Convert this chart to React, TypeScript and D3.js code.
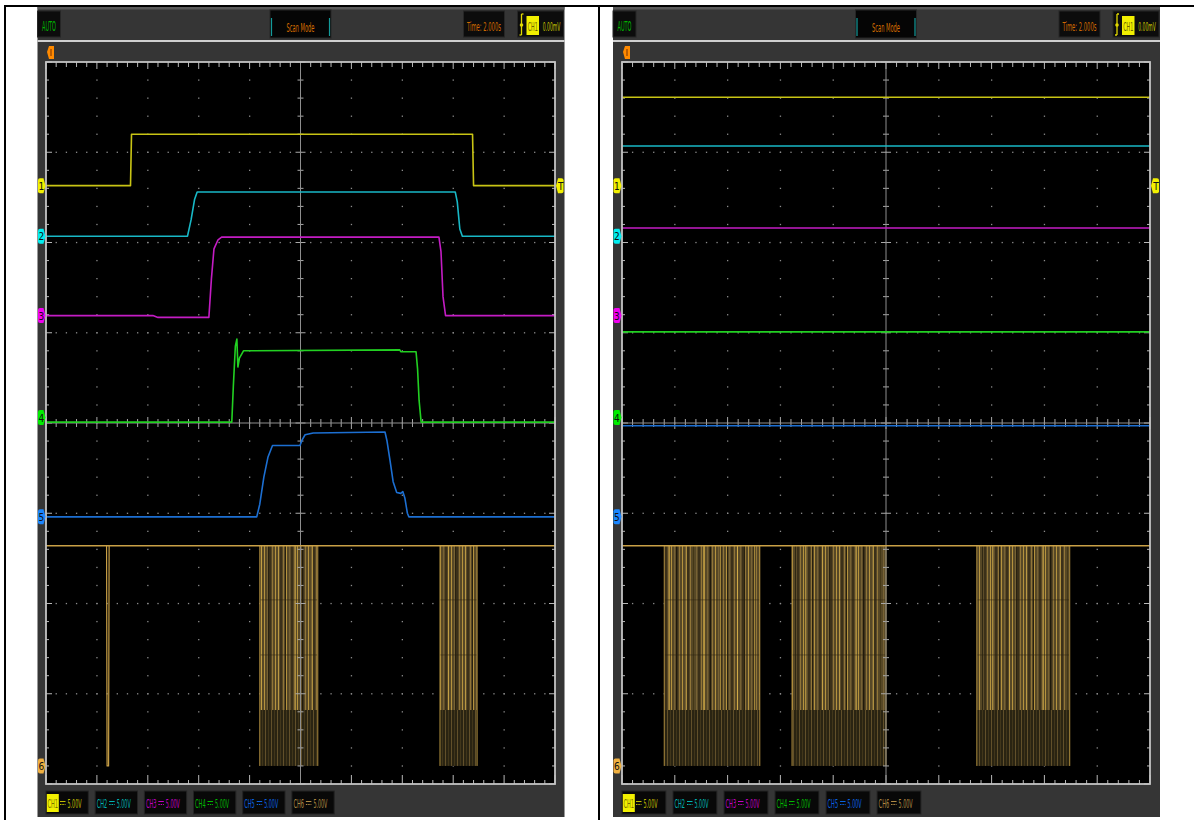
import React, { useLayoutEffect, useRef, useState } from "react";
import * as d3 from "d3";

// ---------- text content ----------
const channelNames = ["CH1", "CH2", "CH3", "CH4", "CH5", "CH6"];
const channelScales = ["5.00V", "5.00V", "5.00V", "5.00V", "5.00V", "5.00V"];
const runMode = "AUTO";
const acqMode = "Scan Mode";
const timeBase = "Time: 2.000s";
const triggerSource = "CH1";
const triggerLevel = "0.00mV";

// ---------- marker levels (divisions from screen centre) ----------
const markerLevels = [2.63, 2.07, 1.19, 0.06, -1.04, -3.8];
const triggerMarkerLevel = 2.63;

// ---------- left capture: [time div, level div] ----------
const leftCh1: [number, number][] = [
  [0, 2.63], [1.66, 2.63], [1.68, 3.2], [8.38, 3.2], [8.4, 2.63], [10, 2.63],
];
const leftCh2: [number, number][] = [
  [0, 2.07], [2.78, 2.07], [2.85, 2.25], [2.92, 2.48], [2.97, 2.56], [8.04, 2.56],
  [8.08, 2.45], [8.13, 2.15], [8.18, 2.07], [10, 2.07],
];
const leftCh3: [number, number][] = [
  [0, 1.19], [2.1, 1.19], [2.2, 1.17], [3.2, 1.17], [3.25, 1.6], [3.3, 1.93], [3.38, 2.03],
  [3.45, 2.06], [7.72, 2.06], [7.76, 1.9], [7.8, 1.4], [7.85, 1.19], [10, 1.19],
];
const leftCh4: [number, number][] = [
  [0, 0.01], [3.65, 0.01], [3.68, 0.4], [3.72, 0.85], [3.75, 0.93], [3.77, 0.62],
  [3.8, 0.72], [3.88, 0.8], [6.95, 0.81], [6.97, 0.79], [7.27, 0.79], [7.3, 0.6],
  [7.33, 0.25], [7.37, 0.01], [10, 0.01],
];
const leftCh5: [number, number][] = [
  [0, -1.04], [4.14, -1.04], [4.2, -0.9], [4.28, -0.6], [4.36, -0.38], [4.45, -0.25],
  [4.99, -0.25], [5.03, -0.19], [5.09, -0.13], [5.25, -0.11], [6.66, -0.1], [6.7, -0.2],
  [6.76, -0.42], [6.82, -0.65], [6.89, -0.77], [6.97, -0.78], [7.01, -0.76], [7.05, -0.83],
  [7.1, -1.0], [7.13, -1.04], [10, -1.04],
];
const leftCh6Spikes = [1.2];
const leftCh6Bursts: [number, number][] = [[4.2, 5.34], [7.74, 8.47]];

// ---------- right capture ----------
const rightCh1: [number, number][] = [[0, 3.61], [10, 3.61]];
const rightCh2: [number, number][] = [[0, 3.07], [10, 3.07]];
const rightCh3: [number, number][] = [[0, 2.16], [10, 2.16]];
const rightCh4: [number, number][] = [[0, 1.01], [10, 1.01]];
const rightCh5: [number, number][] = [[0, -0.03], [10, -0.03]];
const rightCh6Spikes: number[] = [];
const rightCh6Bursts: [number, number][] = [[0.8, 2.61], [3.22, 5.0], [6.72, 8.48]];

// CH6 pulse-train levels
const ch6High = -1.36;
const ch6Low = -3.8;
const ch6BandLevels = [-1.96, -2.57];
const ch6DarkBand = -3.18;

// ---------- styles ----------
const traceColors = ["#c8c414", "#18b8c6", "#c41cc4", "#22d022", "#1c6fd2", "#c9a046"];
const tagColors = ["#f2f000", "#00eef0", "#f000f0", "#00ee00", "#1a86ff", "#f0b040"];
const legendColors = ["#c0bc00", "#00b4b4", "#c400c4", "#00bc00", "#0a62e0", "#b08a44"];
const FONT = "'Liberation Sans Narrow', 'DejaVu Sans Condensed', 'Arial Narrow', sans-serif";

const FY0 = 62;
const FY1 = 784;

type Cfg = {
  id: string;
  cx0: number;
  cx1: number;
  fx0: number;
  fx1: number;
  traces: [number, number][][];
  spikes: number[];
  bursts: [number, number][];
};

const scopeCfgs: Cfg[] = [
  { id: "L", cx0: 37.5, cx1: 564.5, fx0: 46, fx1: 555, traces: [leftCh1, leftCh2, leftCh3, leftCh4, leftCh5], spikes: leftCh6Spikes, bursts: leftCh6Bursts },
  { id: "R", cx0: 613, cx1: 1160, fx0: 622, fx1: 1150, traces: [rightCh1, rightCh2, rightCh3, rightCh4, rightCh5], spikes: rightCh6Spikes, bursts: rightCh6Bursts },
];

// text squeezed horizontally to a given width (condensed scope font)
function FitText({ x, y, w, size, fill, children }: { x: number; y: number; w: number; size: number; fill: string; children: string }) {
  const ref = useRef<SVGTextElement>(null);
  const [sx, setSx] = useState(0.5);
  useLayoutEffect(() => {
    if (ref.current) {
      const l = ref.current.getComputedTextLength();
      if (l > 0) setSx(w / l);
    }
  }, [w, children, size]);
  return (
    <text ref={ref} transform={`translate(${x},${y}) scale(${sx},1)`} fill={fill} fontFamily={FONT} fontSize={size} textAnchor="middle">
      {children}
    </text>
  );
}

function tagPath(x0: number, yc: number, w: number, h: number, right: boolean) {
  if (right) {
    return `M${x0 + 2},${yc - h / 2} L${x0 + w - 2},${yc - h / 2} L${x0 + w},${yc} L${x0 + w - 2},${yc + h / 2} L${x0 + 2},${yc + h / 2} Q${x0},${yc + h / 2} ${x0},${yc + h / 2 - 2} L${x0},${yc - h / 2 + 2} Q${x0},${yc - h / 2} ${x0 + 2},${yc - h / 2} Z`;
  }
  return `M${x0},${yc} L${x0 + 2},${yc - h / 2} L${x0 + w - 2},${yc - h / 2} Q${x0 + w},${yc - h / 2} ${x0 + w},${yc - h / 2 + 2} L${x0 + w},${yc + h / 2 - 2} Q${x0 + w},${yc + h / 2} ${x0 + w - 2},${yc + h / 2} L${x0 + 2},${yc + h / 2} Z`;
}

function Scope({ cfg }: { cfg: Cfg }) {
  const { cx0, cx1, fx0, fx1 } = cfg;
  const x = d3.scaleLinear().domain([0, 10]).range([fx0, fx1]);
  const y = d3.scaleLinear().domain([-4, 4]).range([FY1, FY0]);
  const line = d3.line<[number, number]>().x((d) => x(d[0])).y((d) => y(d[1]));
  const minorX = d3.range(0, 51).map((i) => i / 5);
  const minorY = d3.range(0, 41).map((i) => -4 + i / 5);
  const isMajor = (v: number) => Math.abs(v - Math.round(v)) < 1e-6;
  const xm = x(5);
  const ym = y(0);
  const fw = fx1 - fx0;
  const legStep = fw / 10.35;
  const legW = legStep * 0.86;
  const clipId = `clip${cfg.id}`;
  const fc = (fx0 + fx1) / 2;

  const dots: JSX.Element[] = [];
  for (let i = 1; i <= 9; i++) {
    if (i === 5) continue;
    minorY.forEach((v, j) => {
      if (j === 0 || j === 40) return;
      dots.push(<rect key={`vx${i}-${j}`} x={x(i) - 0.6} y={y(v) - 0.6} width={1.3} height={1.3} fill="#8c8c8c" />);
    });
  }
  for (let k = -3; k <= 3; k++) {
    if (k === 0) continue;
    minorX.forEach((v, j) => {
      if (j === 0 || j === 50) return;
      dots.push(<rect key={`hy${k}-${j}`} x={x(v) - 0.6} y={y(k) - 0.6} width={1.3} height={1.3} fill="#8c8c8c" />);
    });
  }

  const ch6Base = line([[0, ch6High], [10, ch6High]]) as string;

  return (
    <g>
      {/* chrome */}
      <rect x={cx0} y={7} width={cx1 - cx0} height={810} fill="#353535" />
      <rect x={cx0} y={7} width={cx1 - cx0} height={2.5} fill="#5a5a5a" />
      <rect x={cx0} y={40} width={cx1 - cx0} height={2} fill="#cfcfcf" />

      {/* top bar */}
      <rect x={cx0} y={11} width={23} height={26} fill="#0c0c0c" stroke="#262626" />
      <FitText x={cx0 + 11.5} y={31} w={14} size={14} fill="#00b400">{runMode}</FitText>

      <rect x={fc - 30.5} y={10} width={61} height={28} fill="#050505" stroke="#262626" />
      <line x1={fc - 29} x2={fc - 29} y1={18} y2={36} stroke="#139a9a" strokeWidth={1.2} />
      <line x1={fc + 29} x2={fc + 29} y1={18} y2={36} stroke="#139a9a" strokeWidth={1.2} />
      <FitText x={fc} y={32} w={28} size={13} fill="#d66e00">{acqMode}</FitText>

      <rect x={cx1 - 101} y={11} width={41} height={26} fill="#0c0c0c" stroke="#262626" />
      <FitText x={cx1 - 80.5} y={31} w={34} size={13} fill="#d06a00">{timeBase}</FitText>

      <rect x={cx1 - 47} y={11} width={46} height={26} fill="#0c0c0c" stroke="#262626" />
      <line x1={cx1 - 43} x2={cx1 - 43} y1={14} y2={35} stroke="#e0d800" strokeWidth={1.3} />
      <line x1={cx1 - 43} x2={cx1 - 41} y1={14} y2={14} stroke="#e0d800" strokeWidth={1.3} />
      <line x1={cx1 - 45} x2={cx1 - 43} y1={35} y2={35} stroke="#e0d800" strokeWidth={1.3} />
      <circle cx={cx1 - 43} cy={25} r={1.8} fill="#e0d800" />
      <rect x={cx1 - 38} y={16} width={12.5} height={19} fill="#f2f000" />
      <FitText x={cx1 - 31.75} y={31} w={10} size={13} fill="#6a6200">{triggerSource}</FitText>
      <FitText x={cx1 - 13} y={31} w={17.5} size={13} fill="#c8c400">{triggerLevel}</FitText>

      {/* horizontal trigger position marker */}
      <path d={`M${fx0 + 1},52 L${fx0 + 3},46 L${fx0 + 8},46 L${fx0 + 8},59 L${fx0 + 3},59 Z`} fill="#ff8a00" />
      <line x1={fx0 + 5} x2={fx0 + 5} y1={49} y2={56} stroke="#7a3000" strokeWidth={1} />

      {/* graticule */}
      <rect x={fx0} y={FY0} width={fw} height={FY1 - FY0} fill="#000" />
      <defs>
        <clipPath id={clipId}>
          <rect x={fx0} y={FY0} width={fw} height={FY1 - FY0} />
        </clipPath>
      </defs>
      {dots}

      {/* CH6 pulse trains */}
      <g clipPath={`url(#${clipId})`}>
        {cfg.bursts.map(([a, b], i) => (
          <g key={`b${i}`}>
            <rect x={x(a)} y={y(ch6High)} width={x(b) - x(a)} height={y(ch6DarkBand) - y(ch6High)} fill="url(#burstUp)" />
            <rect x={x(a)} y={y(ch6High)} width={x(b) - x(a)} height={y(ch6DarkBand) - y(ch6High)} fill="url(#burstAccent)" />
            <rect x={x(a)} y={y(ch6DarkBand)} width={x(b) - x(a)} height={y(ch6Low) - y(ch6DarkBand)} fill="url(#burstLow)" />
            {ch6BandLevels.map((lv, j) => (
              <line key={j} x1={x(a)} x2={x(b)} y1={y(lv)} y2={y(lv)} stroke="#2a2210" strokeWidth={0.8} opacity={0.6} />
            ))}
            <line x1={x(a)} x2={x(a)} y1={y(ch6High)} y2={y(ch6Low)} stroke="#a8883c" strokeWidth={1} />
            <line x1={x(b)} x2={x(b)} y1={y(ch6High)} y2={y(ch6Low)} stroke="#a8883c" strokeWidth={1} />
          </g>
        ))}
      </g>

      {/* frame ticks */}
      {minorX.map((v, i) => (
        <g key={`tx${i}`}>
          <line x1={x(v)} x2={x(v)} y1={FY0} y2={FY0 + (isMajor(v) ? 7 : 5)} stroke="#b8b8b8" strokeWidth={1} />
          <line x1={x(v)} x2={x(v)} y1={FY1} y2={FY1 - (isMajor(v) ? 9 : 4)} stroke="#b8b8b8" strokeWidth={1} />
          <line x1={x(v)} x2={x(v)} y1={ym - (isMajor(v) ? 6 : 4)} y2={ym + (isMajor(v) ? 6 : 4)} stroke="#a8a8a8" strokeWidth={1} />
        </g>
      ))}
      {minorY.map((v, i) => (
        <g key={`ty${i}`}>
          <line x1={fx0} x2={fx0 + (isMajor(v) ? 6 : 3)} y1={y(v)} y2={y(v)} stroke="#b8b8b8" strokeWidth={1} />
          <line x1={fx1} x2={fx1 - (isMajor(v) ? 6 : 3)} y1={y(v)} y2={y(v)} stroke="#b8b8b8" strokeWidth={1} />
          <line x1={xm - (isMajor(v) ? 5 : 3)} x2={xm + (isMajor(v) ? 5 : 3)} y1={y(v)} y2={y(v)} stroke="#a8a8a8" strokeWidth={1} />
        </g>
      ))}
      <line x1={xm} x2={xm} y1={FY0} y2={FY1} stroke="#8e8e8e" strokeWidth={1} />
      <line x1={fx0} x2={fx1} y1={ym} y2={ym} stroke="#8e8e8e" strokeWidth={1} />

      {/* traces */}
      <g clipPath={`url(#${clipId})`} fill="none" strokeWidth={1.6} strokeLinejoin="round">
        <path d={ch6Base} stroke={traceColors[5]} />
        {cfg.spikes.map((s, i) => (
          <path key={`s${i}`} d={line([[s - 0.01, ch6High], [s, ch6Low], [s + 0.03, ch6Low], [s + 0.04, ch6High]]) as string} stroke={traceColors[5]} strokeWidth={1.2} />
        ))}
        {cfg.traces.map((t, i) => (
          <path key={`t${i}`} d={line(t) as string} stroke={traceColors[i]} />
        ))}
      </g>
      <rect x={fx0} y={FY0} width={fw} height={FY1 - FY0} fill="none" stroke="#c4c4c4" strokeWidth={1.8} />

      {/* channel markers */}
      {markerLevels.map((lv, i) => (
        <g key={`m${i}`}>
          <path d={tagPath(cx0 + 0.5, y(lv), fx0 - cx0 - 1, 15, true)} fill={tagColors[i]} />
          <text x={cx0 + 3.8} y={y(lv) + 4} fontFamily={FONT} fontSize={10} fill="#111" textAnchor="middle">{String(i + 1)}</text>
        </g>
      ))}
      <path d={tagPath(fx1 + 1, y(triggerMarkerLevel), cx1 - fx1 - 2, 15, false)} fill={tagColors[0]} />
      <text x={fx1 + 1 + (cx1 - fx1) / 2} y={y(triggerMarkerLevel) + 4} fontFamily={FONT} fontSize={10} fill="#111" textAnchor="middle">T</text>

      {/* legend */}
      {channelNames.map((n, i) => {
        const bx = fx0 + i * legStep;
        return (
          <g key={`l${i}`}>
            <rect x={bx} y={791} width={legW} height={23} fill="#080808" stroke="#242424" />
            {i === 0 && <rect x={bx + 0.8} y={794} width={12} height={18} fill="#f2f000" />}
            <FitText x={bx + 6.8} y={808} w={10.5} size={13} fill={i === 0 ? "#7a7000" : legendColors[i]}>{n}</FitText>
            <line x1={bx + 14} x2={bx + 19.5} y1={801.5} y2={801.5} stroke={legendColors[i]} strokeWidth={1} />
            <line x1={bx + 14} x2={bx + 19.5} y1={804.5} y2={804.5} stroke={legendColors[i]} strokeWidth={1} strokeDasharray="1.5,0.8" />
            <FitText x={bx + 28.5} y={808} w={14} size={13} fill={legendColors[i]}>{channelScales[i]}</FitText>
          </g>
        );
      })}
    </g>
  );
}

export default function App() {
  return (
    <svg width={1194} height={820} style={{ position: "absolute", left: 0, top: 0, background: "#fff" }}>
      <defs>
        <pattern id="burstUp" width={11} height={8} patternUnits="userSpaceOnUse">
          <rect width={11} height={8} fill="#574826" />
          <rect x={0} width={1} height={8} fill="#b4923e" />
          <rect x={3} width={1.2} height={8} fill="#776234" />
          <rect x={5.5} width={1} height={8} fill="#1e180b" />
          <rect x={8} width={1} height={8} fill="#917538" />
        </pattern>
        <pattern id="burstAccent" width={17} height={8} patternUnits="userSpaceOnUse">
          <rect x={6} width={1} height={8} fill="#e2ba4c" opacity={0.6} />
          <rect x={13} width={1} height={8} fill="#120f06" opacity={0.7} />
        </pattern>
        <pattern id="burstLow" width={6} height={8} patternUnits="userSpaceOnUse">
          <rect width={6} height={8} fill="#2a2412" />
          <rect x={1} width={1} height={8} fill="#62502a" />
          <rect x={4} width={0.8} height={8} fill="#463a1c" />
        </pattern>
      </defs>
      <rect x={0} y={0} width={1194} height={820} fill="#fff" />
      {scopeCfgs.map((c) => (
        <Scope key={c.id} cfg={c} />
      ))}
      {/* table borders */}
      <rect x={4} y={5} width={1190} height={2} fill="#000" />
      <rect x={4} y={5} width={2} height={815} fill="#000" />
      <rect x={598} y={5} width={2} height={815} fill="#000" />
    </svg>
  );
}
